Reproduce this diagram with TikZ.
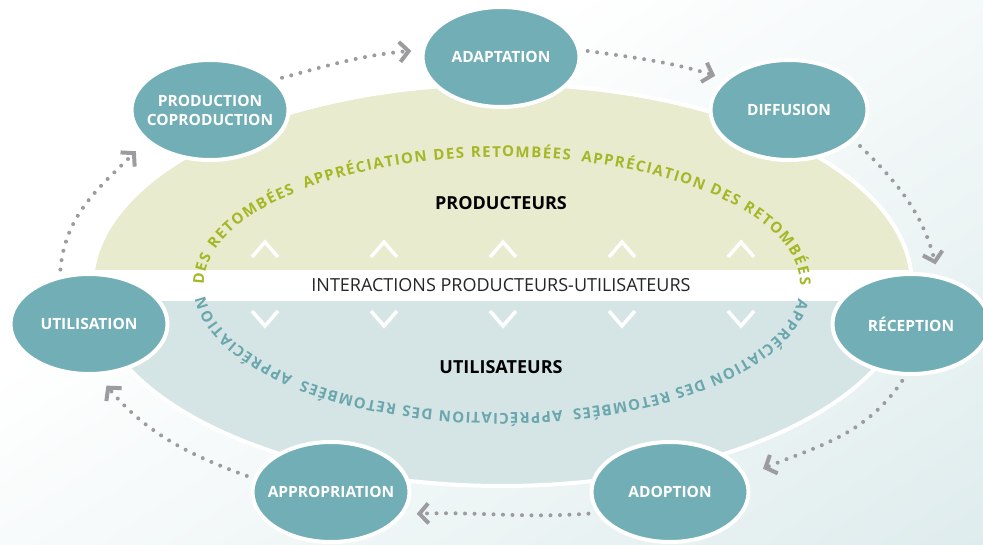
\documentclass[tikz,border=0pt]{standalone}
\usepackage{fontspec}
\setmainfont{Open Sans}
\usepackage{tikz}
\usetikzlibrary{shapes.geometric}
\usetikzlibrary{arrows.meta}
\usetikzlibrary{decorations.text}

\definecolor{stageteal}{RGB}{114,174,181}
\definecolor{prodgreen}{RGB}{232,235,205}
\definecolor{userblue}{RGB}{213,229,229}
\definecolor{bgblue}{RGB}{212,230,231}
\definecolor{ringgreen}{RGB}{164,183,38}
\definecolor{ringteal}{RGB}{106,166,173}
\definecolor{flowgray}{RGB}{156,156,160}

\begin{document}
\begin{tikzpicture}[x=1pt,y=1pt,
  stage/.style={ellipse, draw=white, line width=4pt, fill=stageteal, minimum width=157pt, minimum height=100pt, inner xsep=-25pt, inner ysep=0pt, align=center, text=white, font=\fontsize{15.5}{19}\selectfont\bfseries},
  flow/.style={draw=flowgray, line width=4pt, line cap=round, dash pattern=on 0pt off 9.5pt, -{Straight Barb[length=9pt,width=20pt,line width=4pt,sharp]}},
  chev/.style={draw=white, line width=3.5pt},
  ringtext/.style={decorate, decoration={text along path, text align={fit to path}, text={#1}}}]
\useasboundingbox (0,0) rectangle (983,544);

%Background wash
\fill[white] (0,0) rectangle (983,544);
\begin{scope}
\clip (0,0) rectangle (983,544);
\shade[transform canvas={shift={(983,544)},rotate=-56.8}, left color=white, right color=bgblue] (-230,-1300) rectangle (685,1300);
\end{scope}

%Shape: big ellipse, producers above and users below
\begin{scope}
\clip (502,259) ellipse [x radius=410, y radius=201];
\fill[prodgreen] (80,259) rectangle (930,470);
\fill[userblue] (80,259) rectangle (930,50);
\fill[white] (80,243) rectangle (930,274);
\end{scope}
\draw[white, line width=4pt] (502,259) ellipse [x radius=410, y radius=201];

%Ring text around the centre
\path[ringtext={|\fontsize{15}{18}\selectfont\bfseries\color{ringgreen}|DES RETOMB{\'E}ES{\hspace*{8pt}}APPR{\'E}CIATION DES RETOMB{\'E}ES{\hspace*{8pt}}APPR{\'E}CIATION DES RETOMB{\'E}ES}]
  (204,259) arc[start angle=180, end angle=0, x radius=298, y radius=128];
\path[ringtext={|\fontsize{15}{18}\selectfont\bfseries\color{ringteal}|APPR{\'E}CIATION DES RETOMB{\'E}ES{\hspace*{8pt}}APPR{\'E}CIATION DES RETOMB{\'E}ES{\hspace*{8pt}}APPR{\'E}CIATION}]
  (798.4,245.6) arc[start angle=-6, end angle=-175, x radius=298, y radius=128];

%Chevrons up and down
\foreach \x in {265,384,...,741}{
  \draw[chev] (\x-13,287) -- (\x,302) -- (\x+13,287);
  \draw[chev] (\x-13,233) -- (\x,218) -- (\x+13,233);
}

% Text Node
\node[font=\fontsize{18}{21}\selectfont\bfseries, text=black] (producteurs) at (501,341) {PRODUCTEURS};
% Text Node
\node[font=\fontsize{18}{21}\selectfont\bfseries, text=black] (utilisateurs) at (501,177) {UTILISATEURS};
% Text Node
\node[font=\fontsize{18}{21}\selectfont, text=black!85] (interactions) at (501,259) {INTERACTIONS PRODUCTEURS-UTILISATEURS};

%Stages
\node[stage] (prod) at (210,434) {PRODUCTION\\COPRODUCTION};
\node[stage] (adapt) at (501,487) {ADAPTATION};
\node[stage] (diff) at (789,434) {DIFFUSION};
\node[stage] (recep) at (911,220) {RÉCEPTION};
\node[stage] (adopt) at (670,52) {ADOPTION};
\node[stage] (approp) at (331,52) {APPROPRIATION};
\node[stage] (util) at (89,220) {UTILISATION};

%Dotted arrows
\draw[flow, shorten <=6pt, shorten >=14pt] (util.121) to[out=85, in=225] (prod.206);
\draw[flow, shorten <=7pt, shorten >=10pt] (prod.25) to[out=15, in=185] (adapt.175);
\draw[flow, shorten <=7pt, shorten >=10pt] (adapt.5) to[out=-8, in=163] (diff.154);
\draw[flow, shorten <=8pt, shorten >=11pt] (diff.-25) to[out=-44, in=104] (recep.61);
\draw[flow, shorten <=6pt, shorten >=18pt] (recep.-96) to[out=236, in=23] (adopt.12);
\draw[flow, shorten <=8pt, shorten >=13pt] (adopt.196) to[out=184, in=2] (approp.-17);
\draw[flow, shorten <=7pt, shorten >=13pt] (approp.170) to[out=160, in=-50] (util.-80);

\end{tikzpicture}
\end{document}
